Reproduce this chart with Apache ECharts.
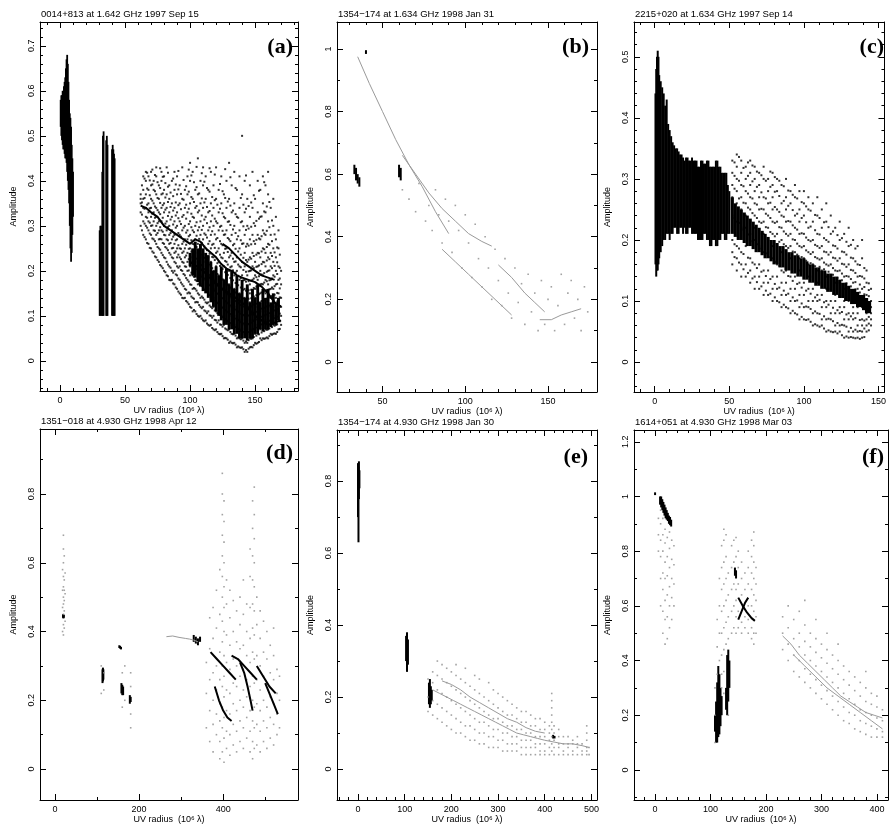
<!DOCTYPE html>
<html><head><meta charset="utf-8">
<script src="https://cdn.jsdelivr.net/npm/echarts@6/dist/echarts.min.js"></script>
<style>html,body{margin:0;padding:0;background:#fff}#c{width:889px;height:827px}</style>
</head><body><div id="c"></div><script>
// ---------------- DATA ----------------
// panel (a)
const aXTicks=[0,50,100,150], aYTicks=[0,0.1,0.2,0.3,0.4,0.5,0.6,0.7];
const aStrips=[[0.5,0.52,0.58],[1,0.50,0.59],[1.5,0.49,0.59],[2,0.48,0.60],[2.5,0.47,0.60],[3,0.47,0.61],[3.5,0.46,0.62],[4,0.45,0.63],[4.5,0.45,0.65],[5,0.44,0.67],[5.5,0.42,0.68],[6,0.40,0.66],[6.5,0.38,0.62],[7,0.35,0.58],[7.5,0.30,0.55],[8,0.25,0.54],[8.5,0.22,0.52],[9,0.24,0.48],[9.5,0.28,0.45],[10,0.32,0.42],
 [30.5,0.10,0.29],[31,0.10,0.30],[31.5,0.11,0.30],[32,0.10,0.29],[32.5,0.10,0.42],[33,0.10,0.50],[33.5,0.10,0.51],[35.5,0.10,0.49],[36,0.10,0.50],[36.5,0.10,0.48],[40,0.10,0.47],[40.5,0.10,0.48],[41,0.10,0.47],[41.5,0.10,0.46],[42,0.10,0.45]];
const aDense=[[100,0.21,0.24],[102,0.19,0.25],[104,0.185,0.265],[106,0.175,0.25],[108,0.165,0.26],[110,0.155,0.25],[112,0.15,0.24],[114,0.14,0.235],[116,0.13,0.22],[118,0.12,0.2],[120,0.11,0.21],[122,0.1,0.19],[124,0.09,0.21],[126,0.08,0.18],[128,0.08,0.205],[130,0.07,0.17],[132,0.07,0.2],[134,0.06,0.16],[136,0.06,0.19],[138,0.05,0.15],[140,0.05,0.18],[142,0.05,0.14],[144,0.045,0.17],[146,0.05,0.13],[148,0.05,0.16],[150,0.06,0.14],[152,0.06,0.17],[154,0.07,0.13],[156,0.065,0.16],[158,0.07,0.14],[160,0.07,0.16],[162,0.075,0.13],[164,0.08,0.15],[166,0.08,0.13],[168,0.09,0.14]];
const aCloudX=[62,64,66,68,70,72,74,76,78,80,82,84,86,88,90,92,94,96,98,100,102,104,106,108,110,112,114,116,118,120,122,124,126,128,130,132,134,136,138,140,142,144,146,148,150,152,154,156,158,160,162,164,166,168,170];
const aCloudY=[[0.30,0.33,0.35,0.36,0.37],[0.28,0.31,0.34,0.36,0.38,0.41],[0.27,0.30,0.32,0.34,0.37,0.40,0.42],[0.26,0.29,0.31,0.33,0.35,0.38,0.41],[0.25,0.28,0.30,0.32,0.34,0.36,0.39,0.42],[0.24,0.27,0.29,0.31,0.33,0.35,0.38,0.40],[0.23,0.26,0.28,0.30,0.32,0.34,0.37,0.41,0.43],[0.22,0.25,0.27,0.29,0.31,0.33,0.36,0.39],[0.21,0.24,0.27,0.29,0.31,0.34,0.37,0.40,0.42],[0.20,0.23,0.26,0.28,0.30,0.33,0.35,0.38,0.41],[0.19,0.22,0.25,0.27,0.29,0.31,0.34,0.37,0.43],[0.18,0.21,0.24,0.26,0.28,0.30,0.33,0.36,0.39],[0.18,0.20,0.23,0.25,0.27,0.29,0.32,0.35,0.40],[0.17,0.20,0.22,0.24,0.26,0.28,0.31,0.34,0.38,0.42],[0.16,0.19,0.21,0.23,0.25,0.27,0.30,0.33,0.37,0.41],[0.15,0.18,0.21,0.23,0.25,0.28,0.31,0.35,0.39],[0.14,0.17,0.20,0.22,0.24,0.26,0.29,0.32,0.36,0.43],[0.14,0.16,0.19,0.21,0.23,0.25,0.27,0.30,0.34,0.38],[0.13,0.15,0.18,0.20,0.22,0.24,0.27,0.29,0.33,0.37,0.41],[0.12,0.15,0.17,0.19,0.21,0.23,0.25,0.28,0.31,0.35,0.40,0.44],[0.11,0.14,0.16,0.19,0.21,0.23,0.26,0.29,0.32,0.36,0.42],[0.11,0.13,0.16,0.18,0.20,0.22,0.25,0.27,0.30,0.34,0.38],[0.10,0.13,0.15,0.17,0.19,0.21,0.24,0.26,0.29,0.33,0.37,0.45],[0.10,0.12,0.14,0.17,0.19,0.21,0.23,0.25,0.28,0.31,0.35,0.40],[0.09,0.12,0.14,0.16,0.18,0.20,0.22,0.24,0.27,0.30,0.34,0.39,0.43],[0.09,0.11,0.13,0.16,0.18,0.20,0.22,0.25,0.28,0.32,0.36,0.41],[0.08,0.11,0.13,0.15,0.17,0.19,0.21,0.23,0.26,0.29,0.33,0.38],[0.08,0.10,0.12,0.14,0.16,0.18,0.20,0.22,0.25,0.28,0.31,0.35,0.42],[0.07,0.10,0.12,0.14,0.16,0.18,0.20,0.23,0.26,0.30,0.34,0.39],[0.07,0.09,0.11,0.13,0.15,0.17,0.19,0.21,0.24,0.27,0.31,0.36,0.43],[0.06,0.09,0.11,0.13,0.15,0.17,0.19,0.22,0.25,0.29,0.33,0.38],[0.06,0.08,0.10,0.12,0.14,0.16,0.18,0.20,0.23,0.26,0.30,0.35,0.41],[0.05,0.08,0.10,0.12,0.14,0.16,0.18,0.21,0.24,0.28,0.32,0.37],[0.05,0.07,0.09,0.11,0.13,0.15,0.17,0.19,0.22,0.25,0.29,0.34,0.40],[0.04,0.07,0.09,0.11,0.13,0.15,0.17,0.20,0.23,0.27,0.31,0.36,0.44],[0.04,0.06,0.08,0.10,0.12,0.14,0.16,0.18,0.21,0.24,0.28,0.33,0.39],[0.04,0.06,0.08,0.10,0.12,0.14,0.16,0.19,0.22,0.26,0.30,0.35,0.42],[0.03,0.05,0.07,0.09,0.11,0.13,0.15,0.17,0.20,0.23,0.27,0.32,0.38],[0.03,0.05,0.07,0.09,0.11,0.13,0.15,0.18,0.21,0.25,0.29,0.34,0.41],[0.03,0.05,0.07,0.09,0.11,0.13,0.15,0.17,0.19,0.22,0.26,0.31,0.37,0.50],[0.02,0.04,0.06,0.08,0.10,0.12,0.14,0.16,0.18,0.21,0.24,0.28,0.33,0.40],[0.02,0.04,0.06,0.08,0.10,0.12,0.14,0.16,0.19,0.22,0.26,0.30,0.36],[0.03,0.05,0.07,0.09,0.11,0.13,0.15,0.17,0.20,0.23,0.27,0.32,0.39],[0.03,0.05,0.07,0.09,0.11,0.13,0.15,0.18,0.21,0.24,0.28,0.34,0.42],[0.04,0.06,0.08,0.10,0.12,0.14,0.16,0.19,0.22,0.26,0.30,0.36],[0.04,0.06,0.08,0.10,0.12,0.14,0.16,0.18,0.21,0.24,0.28,0.33,0.40],[0.05,0.07,0.09,0.11,0.13,0.15,0.17,0.20,0.23,0.27,0.32,0.38],[0.05,0.07,0.09,0.11,0.13,0.15,0.17,0.19,0.22,0.25,0.29,0.35,0.41],[0.05,0.07,0.09,0.11,0.13,0.15,0.18,0.21,0.24,0.28,0.33,0.39],[0.05,0.07,0.09,0.11,0.13,0.15,0.17,0.20,0.23,0.26,0.31,0.37,0.42],[0.06,0.08,0.10,0.12,0.14,0.16,0.18,0.21,0.24,0.28,0.34],[0.06,0.08,0.10,0.12,0.14,0.16,0.19,0.22,0.25,0.30,0.36],[0.06,0.08,0.10,0.12,0.14,0.17,0.20,0.23,0.27,0.32],[0.07,0.09,0.11,0.13,0.15,0.18,0.21,0.25,0.29],[0.08,0.10,0.12,0.14,0.17,0.20]];
const aCloud2X=[63,65,67,69,71,73,75,77,79,81,83,85,87,89,91,93,95,97,99,101,103,105,107,109,111,113,115,117,119,121,123,125,127,129,131,133,135,137,139,141,143,145,147,149,151,153,155,157,159,161,163,165,167,169];
const aCloud2Y=[[0.29,0.325,0.352,0.39],[0.275,0.305,0.338,0.362,0.405],[0.262,0.296,0.318,0.347,0.383,0.418],[0.251,0.283,0.307,0.339,0.368,0.401],[0.243,0.272,0.301,0.327,0.356,0.392,0.425],[0.232,0.266,0.289,0.318,0.343,0.377,0.413],[0.224,0.253,0.284,0.306,0.335,0.362,0.397],[0.213,0.247,0.271,0.297,0.326,0.351,0.384,0.428],[0.206,0.235,0.262,0.287,0.318,0.346,0.372,0.409],[0.197,0.228,0.253,0.279,0.305,0.336,0.363,0.395],[0.188,0.214,0.246,0.268,0.297,0.322,0.353,0.387,0.418],[0.179,0.207,0.236,0.262,0.284,0.314,0.342,0.374],[0.172,0.196,0.228,0.251,0.276,0.303,0.334,0.366,0.405],[0.163,0.192,0.217,0.243,0.268,0.296,0.323,0.352,0.392],[0.154,0.183,0.207,0.236,0.257,0.284,0.317,0.346,0.381,0.422],[0.147,0.174,0.202,0.226,0.249,0.276,0.304,0.337,0.371],[0.139,0.166,0.193,0.218,0.243,0.265,0.296,0.324,0.358,0.402],[0.133,0.158,0.184,0.209,0.234,0.258,0.285,0.316,0.347,0.388],[0.126,0.152,0.176,0.201,0.226,0.249,0.277,0.304,0.338,0.376,0.425],[0.118,0.143,0.169,0.196,0.218,0.243,0.268,0.297,0.327,0.364,0.412],[0.113,0.138,0.162,0.187,0.211,0.236,0.259,0.286,0.318,0.353,0.397],[0.104,0.131,0.156,0.178,0.204,0.227,0.253,0.278,0.308,0.344,0.386,0.431],[0.098,0.124,0.147,0.172,0.196,0.218,0.244,0.271,0.297,0.334,0.372],[0.094,0.117,0.143,0.166,0.187,0.213,0.236,0.262,0.291,0.323,0.361,0.417],[0.088,0.112,0.136,0.158,0.183,0.204,0.229,0.254,0.283,0.314,0.352,0.398],[0.083,0.106,0.128,0.153,0.174,0.197,0.221,0.246,0.274,0.306,0.342,0.384],[0.078,0.101,0.123,0.146,0.168,0.191,0.214,0.238,0.266,0.297,0.333,0.376,0.428],[0.073,0.096,0.117,0.139,0.162,0.184,0.206,0.231,0.258,0.288,0.323,0.364],[0.068,0.091,0.112,0.134,0.156,0.177,0.199,0.224,0.251,0.281,0.316,0.357,0.414],[0.064,0.085,0.106,0.128,0.149,0.171,0.193,0.217,0.243,0.273,0.306,0.347],[0.059,0.081,0.102,0.123,0.144,0.165,0.186,0.211,0.236,0.266,0.298,0.338,0.393],[0.055,0.076,0.097,0.118,0.139,0.158,0.181,0.204,0.228,0.257,0.289,0.328,0.377],[0.051,0.072,0.093,0.113,0.133,0.153,0.174,0.197,0.222,0.249,0.281,0.317,0.362,0.426],[0.047,0.068,0.088,0.108,0.128,0.148,0.169,0.191,0.214,0.242,0.273,0.309,0.354],[0.043,0.064,0.084,0.104,0.123,0.143,0.163,0.184,0.208,0.234,0.266,0.302,0.345,0.408],[0.039,0.059,0.079,0.099,0.118,0.138,0.158,0.179,0.201,0.227,0.257,0.292,0.334],[0.036,0.056,0.075,0.094,0.114,0.133,0.152,0.173,0.196,0.221,0.249,0.284,0.326,0.384],[0.032,0.052,0.071,0.091,0.109,0.128,0.148,0.168,0.189,0.214,0.243,0.277,0.318],[0.029,0.048,0.067,0.086,0.105,0.124,0.143,0.163,0.184,0.208,0.236,0.268,0.308,0.362],[0.026,0.045,0.064,0.083,0.102,0.121,0.139,0.158,0.179,0.202,0.229,0.261,0.299,0.347],[0.024,0.043,0.062,0.081,0.099,0.118,0.137,0.156,0.176,0.198,0.224,0.254,0.291,0.338,0.412],[0.027,0.046,0.064,0.082,0.101,0.119,0.138,0.157,0.177,0.199,0.225,0.256,0.294,0.344],[0.031,0.049,0.067,0.085,0.103,0.121,0.139,0.158,0.178,0.201,0.227,0.259,0.298,0.352],[0.035,0.053,0.071,0.089,0.107,0.125,0.143,0.162,0.183,0.206,0.233,0.266,0.306,0.368],[0.038,0.056,0.074,0.092,0.109,0.127,0.146,0.165,0.186,0.209,0.236,0.269,0.311],[0.042,0.059,0.077,0.094,0.112,0.129,0.148,0.167,0.188,0.212,0.239,0.272,0.316,0.378],[0.046,0.063,0.081,0.098,0.116,0.133,0.152,0.171,0.192,0.215,0.243,0.277,0.321],[0.049,0.066,0.083,0.101,0.118,0.136,0.154,0.174,0.195,0.219,0.248,0.283,0.332,0.397],[0.052,0.069,0.086,0.103,0.121,0.138,0.157,0.177,0.198,0.223,0.253,0.289,0.343],[0.055,0.072,0.089,0.106,0.123,0.141,0.159,0.179,0.201,0.226,0.258,0.297,0.353],[0.058,0.075,0.092,0.109,0.126,0.144,0.163,0.183,0.206,0.233,0.266,0.312],[0.061,0.078,0.095,0.112,0.129,0.147,0.166,0.187,0.211,0.241,0.281],[0.064,0.081,0.098,0.115,0.132,0.151,0.171,0.193,0.219,0.252],[0.071,0.088,0.105,0.122,0.141,0.161,0.183,0.207,0.236]];
const aTrack1=[[62,0.345],[66,0.34],[70,0.33],[75,0.32],[80,0.30],[85,0.29],[90,0.28],[95,0.27],[100,0.26],[104,0.27],[108,0.265],[112,0.25],[116,0.24],[120,0.23],[124,0.215],[128,0.205],[132,0.2],[136,0.19],[140,0.185],[145,0.18],[150,0.175],[155,0.165],[160,0.15],[165,0.13],[170,0.12]];
const aTrack2=[[100,0.22],[105,0.21],[110,0.2],[115,0.185],[120,0.17],[125,0.16],[130,0.15],[135,0.14],[140,0.13],[145,0.115],[150,0.1],[155,0.09],[160,0.08],[165,0.085],[170,0.09]];
const aTrack3=[[125,0.26],[130,0.25],[135,0.235],[140,0.22],[145,0.21],[150,0.2],[155,0.19],[160,0.185],[165,0.18]];
// panel (b)
const bXTicks=[50,100,150], bYTicks=[0,0.2,0.4,0.6,0.8,1];
const bStrips=[[40,0.984,0.996],[33,0.60,0.63],[34,0.58,0.62],[35,0.57,0.60],[36,0.56,0.59],[60,0.59,0.63],[61,0.58,0.62]];
const bTrack1=[[35,0.975],[42,0.89],[50,0.80],[58,0.71],[66,0.63],[74,0.56],[82,0.48],[90,0.41]];
const bTrack2=[[62,0.66],[70,0.60],[78,0.54],[86,0.49],[94,0.45],[102,0.41],[110,0.385],[116,0.37]];
const bTrack3=[[86,0.36],[94,0.32],[102,0.28],[110,0.24],[118,0.2],[124,0.17],[128,0.15]];
const bTrack4=[[120,0.31],[128,0.27],[136,0.22],[142,0.19],[148,0.16]];
const bTrack5=[[145,0.135],[152,0.135],[158,0.15],[164,0.16],[170,0.17]];
const bGrey=[[62,0.55],[66,0.52],[70,0.48],[72,0.57],[76,0.45],[78,0.5],[80,0.42],[82,0.55],[84,0.47],[86,0.38],[88,0.52],[90,0.45],[92,0.35],[94,0.5],[96,0.42],[98,0.3],[100,0.47],[102,0.38],[104,0.27],[106,0.44],[108,0.33],[110,0.24],[112,0.4],[114,0.3],[116,0.2],[118,0.36],[120,0.26],[122,0.18],[124,0.33],[126,0.22],[128,0.14],[130,0.3],[132,0.19],[134,0.25],[136,0.12],[138,0.28],[140,0.16],[142,0.22],[144,0.1],[146,0.26],[148,0.12],[150,0.2],[152,0.24],[154,0.1],[156,0.18],[158,0.28],[160,0.12],[162,0.22],[164,0.26],[166,0.14],[168,0.2],[170,0.1],[172,0.24],[174,0.16]];
// panel (c)
const cXTicks=[0,50,100,150], cYTicks=[0,0.1,0.2,0.3,0.4,0.5];
const cStrips=[[0.5,0.16,0.44],[1,0.14,0.48],[1.5,0.15,0.50],[2,0.15,0.51],[2.5,0.16,0.50],[3,0.17,0.47],[4,0.18,0.46],[5,0.19,0.45],[6,0.2,0.44],[7,0.2,0.42],[8,0.21,0.43],[9,0.21,0.39],[10,0.2,0.38],[11,0.21,0.37],[12,0.21,0.36],[13,0.22,0.355],[14,0.22,0.35],[15,0.21,0.35],[16,0.21,0.345],[17,0.22,0.34],[18,0.22,0.34],[19,0.21,0.335],[20,0.22,0.33],[21,0.21,0.335],[22,0.21,0.335],[23,0.22,0.33],[24,0.22,0.33],[25,0.21,0.335],[26,0.21,0.33],[27,0.21,0.33],[28,0.21,0.33],[29,0.2,0.32],[30,0.2,0.32],[31,0.2,0.33],[32,0.2,0.33],[33,0.21,0.325],[34,0.21,0.325],[35,0.2,0.33],[36,0.2,0.33],[37,0.19,0.32],[38,0.19,0.32],[39,0.2,0.32],[40,0.2,0.32],[41,0.19,0.33],[42,0.19,0.33],[43,0.2,0.32],[44,0.2,0.32],[45,0.21,0.31],[46,0.21,0.31],[47,0.2,0.31],[48,0.2,0.31],[49,0.21,0.29],[50,0.21,0.28]];
const cBand=[[52,0.21,0.27],[54,0.205,0.26],[56,0.2,0.255],[58,0.2,0.25],[60,0.195,0.245],[62,0.19,0.24],[64,0.19,0.235],[66,0.185,0.23],[68,0.18,0.225],[70,0.18,0.22],[72,0.175,0.215],[74,0.17,0.21],[76,0.17,0.205],[78,0.165,0.2],[80,0.16,0.2],[82,0.16,0.195],[84,0.155,0.19],[86,0.155,0.19],[88,0.15,0.185],[90,0.15,0.18],[92,0.145,0.18],[94,0.145,0.175],[96,0.14,0.175],[98,0.14,0.17],[100,0.135,0.17],[102,0.135,0.165],[104,0.13,0.16],[106,0.13,0.16],[108,0.125,0.155],[110,0.125,0.155],[112,0.12,0.15],[114,0.12,0.15],[116,0.115,0.145],[118,0.115,0.145],[120,0.11,0.14],[122,0.11,0.14],[124,0.105,0.135],[126,0.105,0.13],[128,0.1,0.13],[130,0.1,0.125],[132,0.095,0.12],[134,0.095,0.12],[136,0.09,0.115],[138,0.09,0.11],[140,0.085,0.11],[142,0.08,0.105],[144,0.08,0.1]];
const cDotX=[52,55,58,61,64,67,70,73,76,79,82,85,88,91,94,97,100,103,106,109,112,115,118,121,124,127,130,133,136,139,142,145];
const cDotY=[[0.16,0.18,0.20,0.24,0.27,0.29,0.31,0.33],[0.15,0.17,0.19,0.23,0.26,0.28,0.30,0.32,0.34],[0.14,0.16,0.18,0.22,0.25,0.27,0.29,0.31,0.33],[0.14,0.16,0.19,0.22,0.24,0.26,0.28,0.30,0.32],[0.13,0.15,0.17,0.21,0.23,0.25,0.27,0.29,0.31,0.33],[0.12,0.14,0.16,0.20,0.22,0.24,0.26,0.28,0.30,0.32],[0.12,0.14,0.16,0.19,0.21,0.23,0.25,0.27,0.29,0.31],[0.11,0.13,0.15,0.18,0.21,0.23,0.25,0.27,0.30,0.32],[0.11,0.13,0.15,0.18,0.20,0.22,0.24,0.26,0.28,0.30],[0.10,0.12,0.14,0.17,0.19,0.21,0.23,0.25,0.27,0.29,0.31],[0.10,0.12,0.14,0.16,0.19,0.21,0.23,0.25,0.28,0.30],[0.09,0.11,0.13,0.15,0.18,0.20,0.22,0.24,0.26,0.29],[0.09,0.11,0.13,0.15,0.17,0.19,0.21,0.23,0.25,0.27,0.30],[0.08,0.10,0.12,0.14,0.17,0.19,0.21,0.23,0.26,0.28],[0.08,0.10,0.12,0.14,0.16,0.18,0.20,0.22,0.24,0.27,0.29],[0.07,0.09,0.11,0.13,0.15,0.17,0.19,0.21,0.23,0.25,0.28],[0.07,0.09,0.11,0.13,0.15,0.17,0.19,0.21,0.24,0.26,0.28],[0.07,0.09,0.10,0.12,0.14,0.16,0.18,0.20,0.22,0.25,0.27],[0.06,0.08,0.10,0.12,0.14,0.16,0.18,0.20,0.23,0.26],[0.06,0.08,0.10,0.11,0.13,0.15,0.17,0.19,0.21,0.24,0.27],[0.06,0.07,0.09,0.11,0.13,0.15,0.17,0.19,0.22,0.25],[0.05,0.07,0.09,0.10,0.12,0.14,0.16,0.18,0.20,0.23,0.26],[0.05,0.07,0.08,0.10,0.12,0.14,0.16,0.18,0.21,0.24],[0.05,0.06,0.08,0.10,0.11,0.13,0.15,0.17,0.19,0.22],[0.05,0.06,0.08,0.09,0.11,0.13,0.15,0.17,0.20,0.23],[0.04,0.06,0.07,0.09,0.10,0.12,0.14,0.16,0.18,0.21],[0.04,0.05,0.07,0.08,0.10,0.12,0.14,0.16,0.19,0.22],[0.04,0.05,0.07,0.08,0.09,0.11,0.13,0.15,0.17,0.20],[0.04,0.05,0.06,0.08,0.09,0.11,0.12,0.14,0.16,0.19],[0.04,0.05,0.06,0.07,0.09,0.10,0.12,0.14,0.17,0.20],[0.05,0.06,0.07,0.08,0.09,0.11,0.13,0.15],[0.06,0.07,0.08,0.09,0.10,0.12]];
const cDot2X=[53.5,56.5,59.5,62.5,65.5,68.5,71.5,74.5,77.5,80.5,83.5,86.5,89.5,92.5,95.5,98.5,101.5,104.5,107.5,110.5,113.5,116.5,119.5,122.5,125.5,128.5,131.5,134.5,137.5,140.5,143.5];
const cDot2Y=[[0.172,0.193,0.236,0.284,0.305,0.327],[0.163,0.186,0.228,0.268,0.297,0.336],[0.152,0.177,0.217,0.261,0.288,0.318],[0.146,0.171,0.209,0.253,0.276,0.305,0.327],[0.137,0.163,0.198,0.244,0.268,0.296,0.322],[0.131,0.154,0.193,0.236,0.258,0.287,0.312],[0.124,0.148,0.186,0.228,0.251,0.278,0.306],[0.117,0.141,0.178,0.221,0.243,0.268,0.297],[0.112,0.136,0.172,0.213,0.236,0.261,0.287,0.312],[0.106,0.128,0.164,0.206,0.228,0.254,0.279,0.303],[0.098,0.122,0.158,0.197,0.221,0.246,0.272,0.297],[0.094,0.117,0.147,0.193,0.214,0.238,0.264,0.288],[0.088,0.112,0.141,0.187,0.207,0.231,0.256,0.281],[0.084,0.106,0.133,0.181,0.201,0.224,0.249,0.274],[0.078,0.101,0.128,0.176,0.194,0.217,0.243,0.268],[0.074,0.096,0.122,0.172,0.188,0.211,0.236,0.262],[0.069,0.091,0.117,0.166,0.183,0.204,0.229,0.255],[0.066,0.087,0.112,0.162,0.177,0.198,0.222,0.248],[0.062,0.083,0.106,0.157,0.172,0.192,0.216,0.241],[0.058,0.079,0.102,0.156,0.168,0.187,0.209,0.236],[0.055,0.075,0.098,0.152,0.163,0.181,0.203,0.229],[0.052,0.071,0.094,0.148,0.158,0.176,0.197,0.221],[0.049,0.067,0.089,0.143,0.154,0.171,0.191,0.214],[0.047,0.064,0.085,0.138,0.149,0.166,0.186,0.208],[0.044,0.061,0.082,0.134,0.145,0.161,0.181,0.203],[0.042,0.058,0.078,0.129,0.141,0.156,0.176,0.197],[0.041,0.056,0.075,0.124,0.136,0.151,0.171,0.192],[0.039,0.053,0.072,0.119,0.131,0.146,0.165,0.186],[0.038,0.051,0.069,0.114,0.127,0.141,0.159],[0.041,0.055,0.068,0.111,0.123,0.137,0.154],[0.052,0.063,0.074,0.108,0.118,0.129]];
// panel (d)
const dXTicks=[0,200,400], dYTicks=[0,0.2,0.4,0.6,0.8];
const dStrips=[[19,0.44,0.45],[20,0.438,0.45],[21,0.44,0.448],[113,0.25,0.29],[114,0.255,0.295],[115,0.26,0.29],[153,0.352,0.36],[155,0.35,0.358],[157,0.348,0.355],[158,0.22,0.25],[160,0.215,0.245],[162,0.215,0.24],[178,0.19,0.215],[180,0.195,0.21],[330,0.37,0.39],[335,0.365,0.385],[340,0.36,0.38],[345,0.37,0.385]];
const dTrack0=[[265,0.385],[280,0.387],[295,0.383],[310,0.38],[320,0.378],[330,0.375],[340,0.37]];
const dTrack1=[[370,0.34],[385,0.32],[400,0.3],[415,0.28],[430,0.26]];
const dTrack2=[[380,0.24],[390,0.2],[400,0.17],[410,0.15],[420,0.14]];
const dTrack3=[[420,0.33],[435,0.32],[450,0.3],[465,0.28],[480,0.26]];
const dTrack4=[[440,0.31],[450,0.28],[458,0.24],[465,0.2],[470,0.17]];
const dTrack5=[[480,0.3],[495,0.27],[510,0.24],[525,0.22]];
const dTrack6=[[500,0.25],[510,0.22],[520,0.19],[530,0.16]];
const dGreyX=[18,20,22,24,110,116,160,166,180,360,368,376,384,392,398,402,408,416,424,432,440,448,456,464,470,474,480,488,496,504,512,520,528,534];
const dGreyY=[[0.40,0.47,0.52,0.58],[0.39,0.42,0.45,0.48,0.50,0.53,0.56,0.60,0.64,0.68],[0.41,0.46,0.49,0.52,0.55,0.62],[0.43,0.51,0.57],[0.22,0.3],[0.23,0.28],[0.18,0.28],[0.2,0.3],[0.12,0.16,0.24,0.28],[0.12,0.22,0.31],[0.08,0.17,0.26,0.35,0.44],[0.05,0.13,0.2,0.28,0.38,0.47],[0.1,0.16,0.23,0.3,0.41,0.52],[0.03,0.08,0.14,0.19,0.26,0.34,0.45,0.58],[0.05,0.12,0.18,0.24,0.3,0.37,0.43,0.5,0.56,0.62,0.68,0.74,0.8,0.86],[0.02,0.09,0.15,0.21,0.27,0.33,0.4,0.47,0.53,0.6,0.66,0.72,0.78],[0.06,0.11,0.17,0.23,0.31,0.39,0.48,0.55],[0.04,0.1,0.16,0.22,0.29,0.36,0.44,0.52],[0.07,0.13,0.19,0.25,0.32,0.4,0.49],[0.05,0.11,0.17,0.24,0.3,0.37,0.46],[0.08,0.14,0.2,0.27,0.35,0.42,0.5],[0.06,0.12,0.18,0.23,0.29,0.36,0.45,0.55],[0.09,0.15,0.21,0.26,0.33,0.4,0.48],[0.05,0.11,0.17,0.24,0.31,0.38,0.47,0.56,0.64],[0.03,0.08,0.14,0.2,0.27,0.34,0.41,0.48,0.55,0.62,0.7,0.78],[0.06,0.12,0.18,0.25,0.32,0.39,0.46,0.53,0.6,0.67,0.74,0.82],[0.07,0.13,0.19,0.26,0.33,0.42,0.5],[0.05,0.11,0.17,0.23,0.3,0.38,0.46],[0.08,0.14,0.2,0.27,0.34,0.43],[0.06,0.12,0.18,0.25,0.32,0.4],[0.09,0.15,0.21,0.28,0.36],[0.07,0.13,0.19,0.26,0.33,0.41],[0.1,0.16,0.22,0.29],[0.12,0.2,0.27]];
// panel (e)
const eXTicks=[0,100,200,300,400,500], eYTicks=[0,0.2,0.4,0.6,0.8];
const eStrips=[[0,0.70,0.85],[1,0.63,0.84],[2,0.75,0.855],[3,0.78,0.83],[103,0.3,0.37],[105,0.27,0.38],[107,0.29,0.36],[152,0.18,0.24],[154,0.17,0.25],[156,0.18,0.23],[158,0.19,0.22],[418,0.085,0.095],[421,0.085,0.092]];
const eTrack1=[[160,0.22],[175,0.21],[190,0.2],[205,0.19],[220,0.18],[235,0.17],[250,0.16],[265,0.15],[280,0.14],[295,0.13],[310,0.12],[325,0.11],[340,0.1],[355,0.095],[370,0.09],[385,0.085],[400,0.08],[420,0.075],[440,0.07],[460,0.07],[480,0.065],[495,0.06]];
const eTrack2=[[180,0.245],[200,0.235],[220,0.22],[240,0.2],[260,0.185],[280,0.17],[300,0.155],[320,0.14],[340,0.13],[360,0.115],[380,0.105],[400,0.1]];
const eGreyX=[150,160,170,180,190,200,210,220,230,240,250,260,270,280,290,300,310,320,330,340,350,360,370,380,390,400,410,415,420,430,440,450,460,470,480,490,495];
const eGreyY=[[0.16,0.2,0.25],[0.15,0.19,0.24,0.27],[0.14,0.18,0.22,0.26,0.3],[0.13,0.17,0.21,0.25,0.29],[0.12,0.16,0.2,0.24,0.28],[0.11,0.15,0.19,0.23,0.27],[0.1,0.14,0.18,0.22,0.26,0.29],[0.1,0.13,0.17,0.21,0.25],[0.09,0.12,0.16,0.2,0.24,0.28],[0.08,0.12,0.15,0.19,0.23],[0.08,0.11,0.14,0.18,0.22,0.26],[0.07,0.1,0.13,0.17,0.21,0.25],[0.07,0.1,0.13,0.16,0.2],[0.06,0.09,0.12,0.15,0.19,0.24],[0.06,0.09,0.11,0.14,0.18,0.22],[0.06,0.08,0.11,0.14,0.17,0.21],[0.05,0.08,0.1,0.13,0.16,0.2],[0.05,0.07,0.1,0.12,0.15,0.19],[0.05,0.07,0.09,0.12,0.15,0.18],[0.05,0.07,0.09,0.11,0.14,0.17],[0.04,0.06,0.08,0.11,0.13,0.16],[0.04,0.06,0.08,0.1,0.13,0.16],[0.04,0.06,0.08,0.1,0.12,0.15],[0.04,0.06,0.07,0.09,0.12,0.14],[0.04,0.05,0.07,0.09,0.11,0.14],[0.04,0.05,0.07,0.09,0.11,0.13],[0.04,0.06,0.08,0.1,0.12],[0.05,0.07,0.09,0.11,0.13,0.15,0.17,0.19,0.21],[0.04,0.06,0.08,0.1,0.12],[0.04,0.06,0.07,0.09,0.11],[0.04,0.05,0.07,0.09],[0.04,0.06,0.07,0.09],[0.04,0.05,0.07,0.08],[0.04,0.06,0.07,0.09],[0.04,0.05,0.07],[0.04,0.05,0.06,0.08,0.1,0.12],[0.04,0.06]];
// panel (f)
const fXTicks=[0,100,200,300,400], fYTicks=[0,0.2,0.4,0.6,0.8,1,1.2];
const fStrips=[[0,1.005,1.015],[9,0.97,1.0],[11,0.96,1.0],[13,0.95,0.99],[15,0.94,0.98],[17,0.93,0.97],[19,0.92,0.96],[21,0.915,0.95],[23,0.91,0.94],[25,0.9,0.93],[27,0.895,0.925],[29,0.89,0.915],[108,0.14,0.2],[110,0.1,0.25],[112,0.1,0.32],[114,0.12,0.38],[116,0.13,0.35],[118,0.16,0.3],[120,0.2,0.27],[128,0.22,0.3],[130,0.2,0.42],[132,0.25,0.44],[134,0.3,0.4],[144,0.71,0.74],[146,0.7,0.73]];
const fTrackX1=[[150,0.63],[158,0.6],[166,0.575],[174,0.555],[180,0.545]];
const fTrackX2=[[150,0.55],[156,0.58],[162,0.61],[168,0.63]];
const fTrack1=[[230,0.49],[245,0.46],[260,0.42],[275,0.39],[290,0.36],[305,0.33],[320,0.3],[335,0.27],[350,0.25],[365,0.23],[380,0.21],[395,0.2],[410,0.19]];
const fTrack2=[[250,0.42],[270,0.38],[290,0.34],[310,0.3],[330,0.27],[350,0.24],[370,0.21],[390,0.18],[410,0.15]];
const fGreyX=[6,10,14,18,22,26,30,34,108,112,116,120,124,128,132,138,142,146,150,156,162,168,174,178,182,230,240,250,260,270,280,290,300,310,320,330,340,350,360,370,380,390,400,410];
const fGreyY=[[0.8,0.86,0.92],[0.6,0.7,0.78,0.84,0.9,0.95],[0.5,0.58,0.66,0.72,0.8,0.86,0.92],[0.46,0.55,0.62,0.7,0.76,0.83,0.88],[0.48,0.56,0.64,0.71,0.78,0.85],[0.52,0.6,0.67,0.74,0.81,0.87],[0.55,0.63,0.7,0.77,0.84],[0.6,0.68,0.75,0.82],[0.1,0.2,0.3],[0.35,0.45,0.55],[0.4,0.5,0.6,0.7],[0.3,0.35,0.42,0.5,0.58,0.66,0.74,0.82],[0.28,0.36,0.44,0.52,0.6,0.68,0.76,0.84,0.88],[0.46,0.54,0.62,0.7,0.78,0.86],[0.2,0.48,0.56,0.64,0.72],[0.5,0.58,0.66,0.74,0.82],[0.52,0.6,0.68,0.76,0.84],[0.5,0.56,0.62,0.66,0.78,0.85],[0.52,0.58,0.68,0.74,0.8],[0.5,0.54,0.64,0.7,0.76],[0.52,0.56,0.66,0.72],[0.5,0.55,0.6,0.68,0.74,0.8],[0.48,0.52,0.6,0.66,0.72,0.78,0.84],[0.46,0.5,0.58,0.64,0.7,0.76,0.82,0.87],[0.5,0.56,0.62,0.68,0.74],[0.44,0.5,0.56],[0.4,0.46,0.52,0.6],[0.36,0.42,0.48,0.55],[0.34,0.4,0.45,0.5,0.58],[0.32,0.37,0.42,0.47,0.53,0.62],[0.3,0.35,0.4,0.45,0.5],[0.28,0.33,0.38,0.43,0.48,0.55],[0.26,0.31,0.36,0.41,0.46],[0.24,0.29,0.34,0.39,0.44,0.5],[0.22,0.27,0.32,0.37,0.42],[0.2,0.25,0.3,0.35,0.4,0.46],[0.18,0.23,0.28,0.33,0.38],[0.17,0.21,0.26,0.31,0.36],[0.15,0.2,0.24,0.29,0.34],[0.14,0.18,0.22,0.27,0.32],[0.13,0.17,0.21,0.25,0.3,0.36],[0.12,0.16,0.2,0.24,0.28],[0.12,0.15,0.19,0.23,0.27],[0.12,0.14,0.18,0.22]];

// ---------------- LAYOUT / STYLE ----------------
function cols(xs, ys){const o=[];xs.forEach((x,i)=>ys[i].forEach(y=>o.push([x,y])));return o;}
function minors(min,max,step){const r=[];for(let k=Math.ceil(min/step-1e-9);k*step<=max+1e-9;k++)r.push(+(k*step).toFixed(6));return r;}
const F='Liberation Sans';
const panels=[
 {g:[40,22,258,369],x:[-15.4,183],y:[-0.067,0.753],xt:aXTicks,xm:10,yt:aYTicks,ym:0.02,title:'0014+813 at 1.642 GHz 1997 Sep 15',letter:'(a)',lr:889-293,lt:36,
  strips:[[aStrips,1.8],[aDense,2.9]],black:[cols(aCloudX,aCloudY),cols(aCloud2X,aCloud2Y)],grey:[],blines:[aTrack1,aTrack2,aTrack3],glines:[]},
 {g:[337,22,260,370],x:[22.5,179.6],y:[-0.096,1.086],xt:bXTicks,xm:10,yt:bYTicks,ym:0.1,title:'1354\u2212174 at 1.634 GHz 1998 Jan 31',letter:'(b)',lr:889-589,lt:36,
  strips:[[bStrips,2]],black:[],grey:[bGrey],blines:[],glines:[bTrack1,bTrack2,bTrack3,bTrack4,bTrack5]},
 {g:[634,22,254,370],x:[-13.9,154],y:[-0.049,0.557],xt:cXTicks,xm:10,yt:cYTicks,ym:0.02,title:'2215+020 at 1.634 GHz 1997 Sep 14',letter:'(c)',lr:889-884,lt:36,
  strips:[[cStrips,2],[cBand,3.2]],black:[cols(cDotX,cDotY),cols(cDot2X,cDot2Y)],grey:[],blines:[],glines:[]},
 {g:[40,429,258,371],x:[-35.7,578],y:[-0.09,0.989],xt:dXTicks,xm:100,yt:dYTicks,ym:0.1,title:'1351\u2212018 at 4.930 GHz 1998 Apr 12',letter:'(d)',lr:889-293,lt:442,
  strips:[[dStrips,2]],black:[],grey:[cols(dGreyX,dGreyY)],blines:[dTrack1,dTrack2,dTrack3,dTrack4,dTrack5,dTrack6],glines:[dTrack0]},
 {g:[337,430,260,370],x:[-45,512],y:[-0.086,0.942],xt:eXTicks,xm:20,yt:eYTicks,ym:0.1,title:'1354\u2212174 at 4.930 GHz 1998 Jan 30',letter:'(e)',lr:889-588,lt:446,
  strips:[[eStrips,2]],black:[],grey:[cols(eGreyX,eGreyY)],blines:[],glines:[eTrack1,eTrack2]},
 {g:[634,430,254,370],x:[-38,420],y:[-0.11,1.243],xt:fXTicks,xm:20,yt:fYTicks,ym:0.1,title:'1614+051 at 4.930 GHz 1998 Mar 03',letter:'(f)',lr:889-884,lt:446,
  strips:[[fStrips,2]],black:[],grey:[cols(fGreyX,fGreyY)],blines:[fTrackX1,fTrackX2],glines:[fTrack1,fTrack2]}
];
const LS={color:'#000',width:1};
const grid=[],xAxis=[],yAxis=[],series=[],title=[];
panels.forEach((p,i)=>{
  grid.push({left:p.g[0],top:p.g[1],width:p.g[2],height:p.g[3],containLabel:false});
  const xm=minors(p.x[0],p.x[1],p.xm), ym=minors(p.y[0],p.y[1],p.ym);
  const base={gridIndex:i,type:'value',splitLine:{show:false},axisPointer:{show:false}};
  const lab={fontSize:9,color:'#000',fontFamily:F};
  xAxis.push(Object.assign({},base,{min:p.x[0],max:p.x[1],position:'bottom',axisLine:{show:true,onZero:false,lineStyle:LS},
    axisTick:{show:true,inside:true,length:6,customValues:p.xt,lineStyle:LS},axisLabel:Object.assign({show:true,customValues:p.xt,margin:5},lab),
    name:'UV radius  (10\u2076 \u03bb)',nameLocation:'middle',nameGap:14,nameTextStyle:{fontSize:9,color:'#000',fontFamily:F}}));
  xAxis.push(Object.assign({},base,{min:p.x[0],max:p.x[1],position:'bottom',axisLine:{show:false,onZero:false},axisTick:{show:true,inside:true,length:3,customValues:xm,lineStyle:LS},axisLabel:{show:false}}));
  xAxis.push(Object.assign({},base,{min:p.x[0],max:p.x[1],position:'top',axisLine:{show:true,onZero:false,lineStyle:LS},axisTick:{show:true,inside:true,length:6,customValues:p.xt,lineStyle:LS},axisLabel:{show:false}}));
  xAxis.push(Object.assign({},base,{min:p.x[0],max:p.x[1],position:'top',axisLine:{show:false,onZero:false},axisTick:{show:true,inside:true,length:3,customValues:xm,lineStyle:LS},axisLabel:{show:false}}));
  yAxis.push(Object.assign({},base,{min:p.y[0],max:p.y[1],position:'left',axisLine:{show:true,onZero:false,lineStyle:LS},
    axisTick:{show:true,inside:true,length:6,customValues:p.yt,lineStyle:LS},axisLabel:Object.assign({show:true,customValues:p.yt,margin:4,rotate:90},lab),
    name:'Amplitude',nameLocation:'middle',nameGap:22,nameTextStyle:{fontSize:9,color:'#000',fontFamily:F}}));
  yAxis.push(Object.assign({},base,{min:p.y[0],max:p.y[1],position:'left',axisLine:{show:false,onZero:false},axisTick:{show:true,inside:true,length:3,customValues:ym,lineStyle:LS},axisLabel:{show:false}}));
  yAxis.push(Object.assign({},base,{min:p.y[0],max:p.y[1],position:'right',axisLine:{show:true,onZero:false,lineStyle:LS},axisTick:{show:true,inside:true,length:6,customValues:p.yt,lineStyle:LS},axisLabel:{show:false}}));
  yAxis.push(Object.assign({},base,{min:p.y[0],max:p.y[1],position:'right',axisLine:{show:false,onZero:false},axisTick:{show:true,inside:true,length:3,customValues:ym,lineStyle:LS},axisLabel:{show:false}}));
  const ax={xAxisIndex:i*4,yAxisIndex:i*4,silent:true,animation:false};
  p.grey.forEach(d=>series.push(Object.assign({type:'scatter',data:d,symbol:'rect',symbolSize:1.6,itemStyle:{color:'#8c8c8c'}},ax)));
  p.glines.forEach(d=>series.push(Object.assign({type:'line',data:d,symbol:'none',lineStyle:{color:'#9a9a9a',width:1}},ax)));
  p.black.forEach(d=>series.push(Object.assign({type:'scatter',data:d,symbol:'rect',symbolSize:2,itemStyle:{color:'#000'}},ax)));
  p.blines.forEach(d=>series.push(Object.assign({type:'line',data:d,symbol:'none',lineStyle:{color:'#000',width:2}},ax)));
  p.strips.forEach(([d,sw])=>series.push(Object.assign({type:'custom',data:d,encode:{x:0,y:[1,2]},clip:true,
    renderItem:(params,api)=>{const a=api.coord([api.value(0),api.value(1)]),b=api.coord([api.value(0),api.value(2)]);
      return {type:'rect',shape:{x:a[0]-sw/2,y:b[1],width:sw,height:Math.max(1.5,a[1]-b[1])},style:{fill:'#000'}};}},ax)));
  title.push({text:p.title,left:p.g[0]+1,top:p.g[1]-13,padding:0,textStyle:{fontSize:9.5,fontWeight:'normal',color:'#000',fontFamily:F}});
  title.push({text:p.letter,right:p.lr,top:p.lt,padding:0,textStyle:{fontSize:22,fontWeight:'bold',color:'#000',fontFamily:'Liberation Serif'}});
});
const chart=echarts.init(document.getElementById('c'),null,{renderer:'canvas'});
chart.setOption({animation:false,backgroundColor:'#fff',title,grid,xAxis,yAxis,series});
</script></body></html>
